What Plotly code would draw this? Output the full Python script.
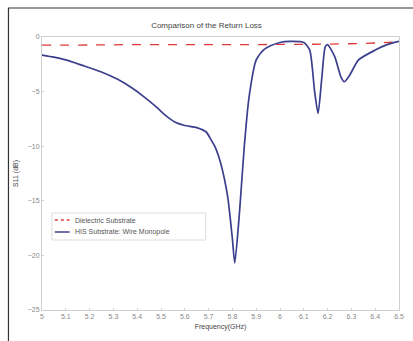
import plotly.graph_objects as go

freq_his = [5.00, 5.05, 5.10, 5.17, 5.25, 5.32, 5.38, 5.43, 5.48, 5.52, 5.56, 5.60, 5.65, 5.69, 5.71,
            5.73, 5.75, 5.78, 5.80, 5.81, 5.83, 5.85, 5.87, 5.90, 5.93, 5.96, 6.00, 6.04, 6.10, 6.125,
            6.145, 6.16, 6.175, 6.19, 6.20, 6.23, 6.255, 6.27, 6.29, 6.33, 6.40, 6.45, 6.50]
s11_his = [-1.65, -1.85, -2.1, -2.6, -3.2, -3.9, -4.7, -5.5, -6.4, -7.2, -7.8, -8.1, -8.3, -8.7, -9.4,
           -10.2, -11.5, -14.6, -18.5, -20.7, -16.0, -10.0, -5.5, -2.1, -1.2, -0.8, -0.5, -0.4, -0.5, -1.2,
           -4.9, -7.0, -3.9, -0.9, -0.7, -1.8, -3.6, -4.1, -3.6, -2.1, -1.2, -0.7, -0.4]

freq_diel = [5.0, 5.2, 5.4, 5.6, 5.8, 6.0, 6.2, 6.4, 6.5]
s11_diel = [-0.75, -0.73, -0.7, -0.7, -0.7, -0.68, -0.65, -0.55, -0.45]

x_ticks = [5.0, 5.1, 5.2, 5.3, 5.4, 5.5, 5.6, 5.7, 5.8, 5.9, 6.0, 6.1, 6.2, 6.3, 6.4, 6.5]
x_tick_labels = ["5", "5.1", "5.2", "5.3", "5.4", "5.5", "5.6", "5.7", "5.8", "5.9", "6", "6.1", "6.2", "6.3", "6.4", "6.5"]
y_ticks = [0, -5, -10, -15, -20, -25]

series_names = ["Dielectric Substrate", "HIS Substrate: Wire Monopole"]
series_colors = ["#e03a3a", "#3b3f8e"]

fig = go.Figure()
fig.add_trace(go.Scatter(x=freq_diel, y=s11_diel, mode="lines", name=series_names[0],
                         line=dict(color=series_colors[0], width=1.3, dash="dash", shape="spline")))
fig.add_trace(go.Scatter(x=freq_his, y=s11_his, mode="lines", name=series_names[1],
                         line=dict(color=series_colors[1], width=1.7, shape="spline", smoothing=0.6)))

L, R, T, B = 42, 9, 37, 31
W, H = 413, 341
pw, ph = W - L - R, H - T - B


def px(x):
    return (x - L) / pw


def py(y):
    return 1 - (y - T) / ph


tick_font = dict(family="Liberation Sans, Arial, sans-serif", size=7, color="#888888")
fig.update_layout(
    width=W, height=H, margin=dict(l=L, r=R, t=T, b=B),
    paper_bgcolor="white", plot_bgcolor="white",
    font=dict(family="Liberation Sans, Arial, sans-serif", size=7, color="#777777"),
    title=dict(text="Comparison of the Return Loss", x=0.5, xanchor="center", y=1 - 25 / H, yanchor="middle",
               font=dict(size=8, color="#444444")),
    xaxis=dict(range=[5.0, 6.5], tickvals=x_ticks, ticktext=x_tick_labels, showgrid=False, zeroline=False,
               showline=True, mirror=True, linecolor="#d0d0d0", linewidth=1, ticks="inside", ticklen=2,
               tickcolor="#d0d0d0", tickfont=tick_font,
               title=dict(text="Frequency(GHz)", font=dict(size=7, color="#444444"), standoff=4)),
    yaxis=dict(range=[-25, 0], tickvals=y_ticks, showgrid=False, zeroline=False,
               showline=True, mirror=True, linecolor="#d0d0d0", linewidth=1, ticks="inside", ticklen=2,
               tickcolor="#d0d0d0", tickfont=tick_font,
               title=dict(text="S11 (dB)", font=dict(size=7, color="#444444"), standoff=8)),
    showlegend=False,
)

# outer figure frame
fig.add_shape(type="rect", xref="paper", yref="paper",
              x0=px(8), x1=px(420), y0=py(380), y1=py(8),
              line=dict(color="#333333", width=1.2), fillcolor="rgba(0,0,0,0)", layer="below")

# legend box
fig.add_shape(type="rect", xref="paper", yref="paper",
              x0=px(52), x1=px(208), y0=py(240), y1=py(213),
              line=dict(color="#dddddd", width=1), fillcolor="white", layer="above")
legend_rows = [220, 232]
legend_dash = ["dash", "solid"]
for i in range(2):
    fig.add_shape(type="line", xref="paper", yref="paper",
                  x0=px(55), x1=px(70), y0=py(legend_rows[i]), y1=py(legend_rows[i]),
                  line=dict(color=series_colors[i], width=1.5, dash="dot" if legend_dash[i] == "dash" else "solid"),
                  layer="above")
    fig.add_annotation(xref="paper", yref="paper", x=px(73), y=py(legend_rows[i]),
                       text=series_names[i], showarrow=False, xanchor="left", yanchor="middle",
                       font=dict(family="Liberation Sans, Arial, sans-serif", size=7, color="#555555"))

fig.write_html("out.html")
